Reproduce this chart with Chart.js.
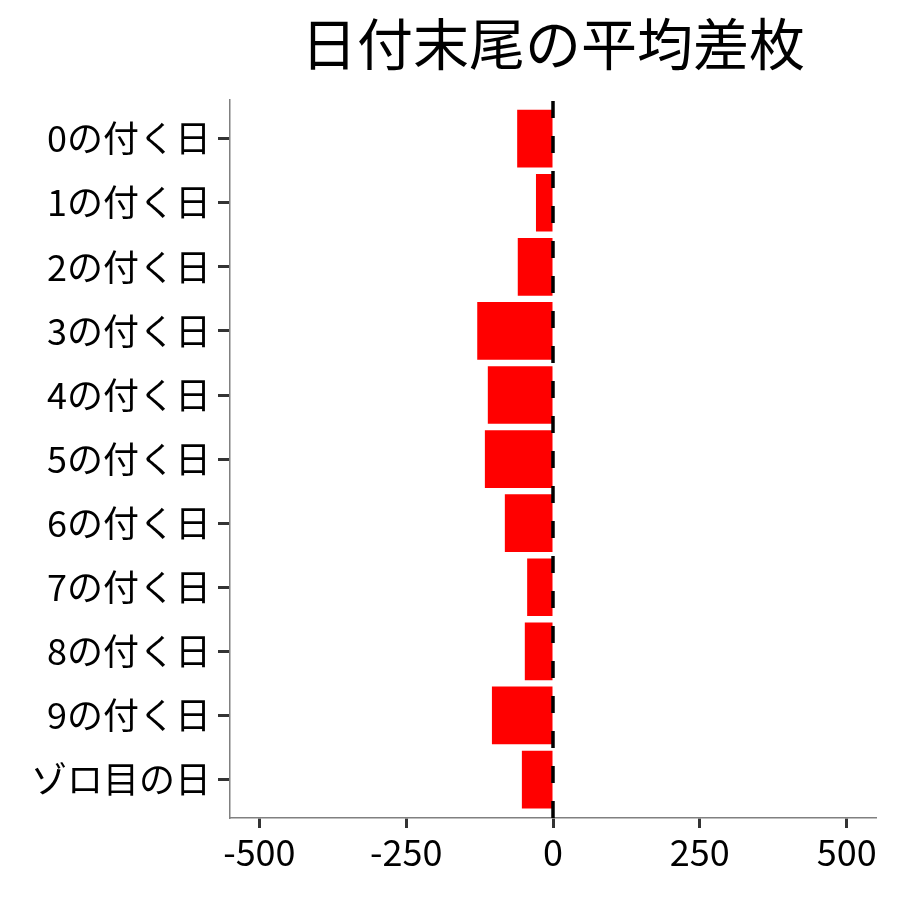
<!DOCTYPE html>
<html>
<head>
<meta charset="utf-8">
<script src="https://cdn.jsdelivr.net/npm/chart.js@4.4.1/dist/chart.umd.min.js"></script>
<style>
  html, body { margin: 0; padding: 0; background: #fff; }
  #wrap { width: 900px; height: 900px; }
</style>
</head>
<body>
<div id="wrap"><canvas id="c" width="900" height="900"></canvas></div>
<script>
const labels = ['0の付く日', '1の付く日', '2の付く日', '3の付く日', '4の付く日', '5の付く日',
                '6の付く日', '7の付く日', '8の付く日', '9の付く日', 'ゾロ目の日'];
const avgDiff = [-61, -29, -60, -129, -111, -116, -82, -44, -48, -104, -53];
const xTicks = [-500, -250, 0, 250, 500];
const xRange = [-550, 550];
const yRange = [-0.6, 10.6];
const titleText = '日付末尾の平均差枚';

const FONT = '"Noto Sans CJK JP", "Noto Sans", sans-serif';

const ctx = document.getElementById('c').getContext('2d');
new Chart(ctx, {
  data: {
    datasets: [
      {
        // zero reference line, drawn bottom to top
        type: 'line',
        data: [{ x: 0, y: yRange[1] }, { x: 0, y: yRange[0] }],
        borderColor: '#000',
        borderWidth: 3.5,
        borderDash: [17, 18],
        pointRadius: 0,
        order: 0
      },
      {
        type: 'bar',
        indexAxis: 'y',
        data: avgDiff.map((v, i) => ({ x: v, y: i })),
        backgroundColor: '#ff0000',
        borderWidth: 0,
        barPercentage: 0.9,
        categoryPercentage: 1,
        order: 1
      }
    ]
  },
  options: {
    responsive: false,
    animation: false,
    layout: { padding: { left: 0, right: 24, top: 0, bottom: 0 } },
    plugins: {
      legend: { display: false },
      tooltip: { enabled: false },
      title: {
        display: true,
        text: titleText,
        fullSize: false,
        color: '#000',
        font: { family: FONT, size: 56, weight: 'normal' },
        padding: { top: 10, bottom: 23 }
      }
    },
    scales: {
      x: {
        type: 'linear',
        min: xRange[0],
        max: xRange[1],
        offset: false,
        afterBuildTicks: s => { s.ticks = xTicks.map(v => ({ value: v })); },
        afterFit: s => { s.height = 82; },
        ticks: {
          color: '#000',
          font: { family: FONT, size: 36 },
          padding: 3,
          maxRotation: 0
        },
        grid: {
          offset: false,
          drawOnChartArea: false,
          tickLength: 10,
          tickColor: '#333',
          tickWidth: 3
        },
        border: { display: true, color: '#808080', width: 1.5 }
      },
      y: {
        type: 'linear',
        reverse: true,
        min: yRange[0],
        max: yRange[1],
        offset: false,
        afterBuildTicks: s => { s.ticks = labels.map((_, i) => ({ value: i })); },
        afterFit: s => { s.width = 230; },
        ticks: {
          color: '#000',
          font: { family: FONT, size: 36 },
          padding: 7,
          callback: v => labels[v]
        },
        grid: {
          offset: false,
          drawOnChartArea: false,
          tickLength: 12,
          tickColor: '#333',
          tickWidth: 3
        },
        border: { display: true, color: '#808080', width: 1.5 }
      }
    }
  }
});
</script>
</body>
</html>
